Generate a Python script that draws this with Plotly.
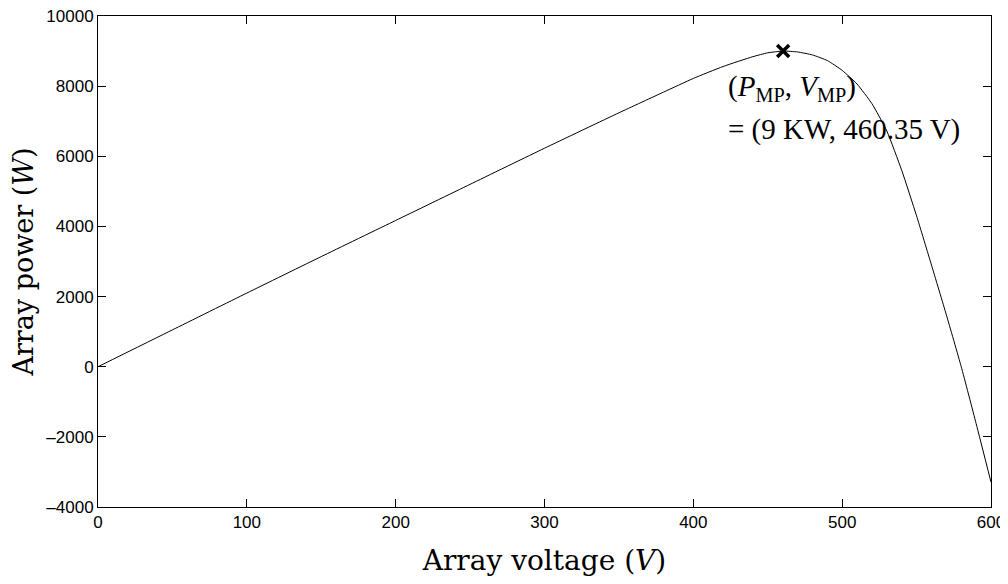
import plotly.graph_objects as go

voltage = [0, 50, 100, 150, 200, 250, 300, 350, 380, 400, 420, 440, 450, 460.35,
           470, 480, 490, 500, 510, 520, 530, 540, 550, 560, 570, 580, 590, 600]
power = [0, 1050, 2100, 3140, 4170, 5200, 6230, 7240, 7830, 8220, 8560, 8840, 8950, 9000,
         8975, 8890, 8730, 8450, 8060, 7500, 6720, 5600, 4300, 2900, 1480, 0, -1620, -3290]

mpp_v = [460.35]
mpp_p = [9000]

x_ticks = [0, 100, 200, 300, 400, 500, 600]
y_ticks = [-4000, -2000, 0, 2000, 4000, 6000, 8000, 10000]

serif = "DejaVu Serif, Liberation Serif, serif"
ann_font = dict(family="Liberation Serif, DejaVu Serif, serif", size=29, color="black")

fig = go.Figure()
fig.add_trace(go.Scatter(x=voltage, y=power, mode="lines",
                         line=dict(color="black", width=1, shape="spline", smoothing=0.5),
                         showlegend=False, hoverinfo="skip"))
fig.add_trace(go.Scatter(x=mpp_v, y=mpp_p, mode="markers",
                         marker=dict(symbol="x-thin-open", size=12, color="black",
                                     line=dict(color="black", width=3.5)),
                         showlegend=False))

fig.add_annotation(x=422, y=7950, xref="x", yref="y", xanchor="left", yanchor="middle",
                   align="left", showarrow=False,
                   text="(<i>P</i><sub>MP</sub>, <i>V</i><sub>MP</sub>)", font=ann_font)
fig.add_annotation(x=422, y=6770, xref="x", yref="y", xanchor="left", yanchor="middle",
                   align="left", showarrow=False,
                   text="= (9 KW, 460.35 V)", font=ann_font)

axis_common = dict(showline=True, linecolor="black", linewidth=1, mirror="ticks",
                   ticks="inside", ticklen=8, tickcolor="black", showgrid=False,
                   zeroline=False, automargin=False, ticklabeloverflow="allow",
                   tickfont=dict(family="Liberation Sans, Arial", size=17, color="black"))

fig.update_xaxes(range=[0, 600], tickvals=x_ticks, ticktext=[str(v) for v in x_ticks],
                 title=dict(text="Array voltage (<i>V</i>)", standoff=18,
                            font=dict(family=serif, size=28, color="black")),
                 **axis_common)
fig.update_yaxes(range=[-4000, 10000], tickvals=y_ticks,
                 ticktext=[("\u2013" + str(-v)) if v < 0 else str(v) for v in y_ticks],
                 title=dict(text="Array power (<i>W</i>)", standoff=5,
                            font=dict(family=serif, size=27, color="black")),
                 **axis_common)

fig.update_layout(width=1000, height=576, plot_bgcolor="white", paper_bgcolor="white",
                  margin=dict(l=90, r=17, t=8, b=77))

fig.write_html("out.html")
